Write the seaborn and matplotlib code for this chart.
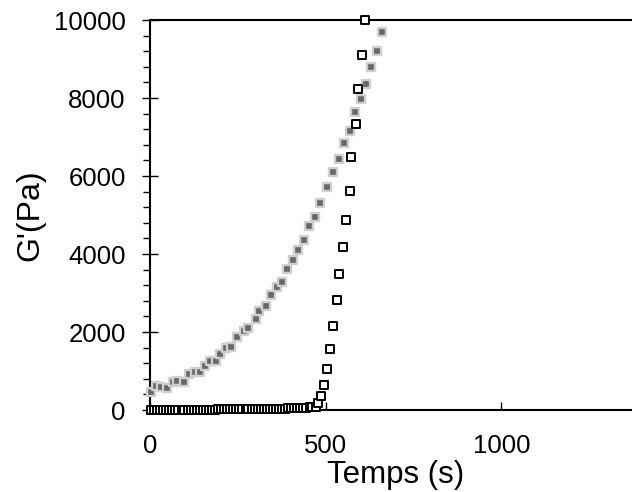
import matplotlib
matplotlib.use("Agg")
import matplotlib.pyplot as plt
from matplotlib.ticker import MultipleLocator
import pandas as pd
import seaborn as sns

# G' of the gray (filled) series
gray_time = [3, 16, 32, 49, 65, 78, 97, 111, 127, 142, 157, 172, 188, 200, 215,
             230, 247, 267, 280, 301, 311, 330, 344, 361, 375, 389, 407, 420, 438,
             453, 470, 484, 503, 520, 539, 552, 569, 584, 601, 615, 628, 647, 660]
gray_g = [470, 620, 600, 570, 725, 745, 725, 930, 965, 965, 1135, 1265, 1255, 1430,
          1580, 1615, 1865, 2025, 2110, 2335, 2530, 2665, 2940, 3160, 3290, 3610,
          3845, 4095, 4360, 4720, 4955, 5315, 5710, 6095, 6435, 6840, 7160, 7635,
          7975, 8360, 8805, 9205, 9685]

# G' of the open-square series
open_time = [3, 12, 20, 29, 38, 46, 55, 64, 72, 81, 90, 98, 107, 116, 124, 133, 142,
             150, 159, 168, 176, 185, 194, 202, 211, 220, 228, 237, 246, 254, 263,
             272, 280, 289, 298, 306, 315, 324, 332, 341, 350, 358, 367, 376, 384,
             393, 402, 410, 419, 428, 436, 445, 454, 462, 471, 478, 487, 494, 505,
             513, 520, 531, 539, 549, 557, 568, 573, 586, 593, 603, 611]
open_g = [5, 5, 5, 5, 6, 6, 6, 7, 7, 7, 8, 8, 8, 9, 9, 10, 10, 10, 11, 11, 12, 12,
          13, 13, 14, 14, 15, 15, 16, 17, 17, 18, 19, 20, 21, 22, 23, 24, 25, 27,
          28, 30, 32, 34, 36, 39, 42, 45, 49, 53, 58, 63, 69, 76, 85, 170, 360, 640,
          1040, 1560, 2150, 2820, 3490, 4170, 4870, 5615, 6480, 7340, 8230, 9100,
          10000]

y_ticks = [0, 2000, 4000, 6000, 8000, 10000]
x_ticks = [0, 500, 1000]

sns.set_theme(style="white")
plt.rcParams["font.family"] = ["Liberation Sans", "DejaVu Sans"]

fig = plt.figure(figsize=(6.32, 4.92), dpi=100)
ax = fig.add_axes([150 / 632, 82 / 492, 492 / 632, 390 / 492])

gray_df = pd.DataFrame({"t": gray_time, "g": gray_g})
open_df = pd.DataFrame({"t": open_time, "g": open_g})

sns.scatterplot(data=gray_df, x="t", y="g", ax=ax, marker="s", s=32,
                color="#676767", edgecolor="#cfcfcf", linewidth=1.7, zorder=3)
sns.scatterplot(data=open_df, x="t", y="g", ax=ax, marker="s", s=32,
                color="white", edgecolor="black", linewidth=1.4, zorder=4)
for coll in ax.collections:
    coll.set_clip_on(False)

ax.set_xlim(0, 1400)
ax.set_ylim(0, 10000)
ax.set_xticks(x_ticks)
ax.set_yticks(y_ticks)
ax.yaxis.set_minor_locator(MultipleLocator(400))

for side in ("left", "top", "bottom"):
    ax.spines[side].set_color("black")
    ax.spines[side].set_linewidth(1.5)
ax.spines["right"].set_visible(False)

ax.tick_params(axis="y", which="major", direction="inout", length=11, width=1,
               labelsize=18.5, pad=12, left=True, colors="black")
ax.tick_params(axis="y", which="minor", direction="out", length=5, width=1,
               left=True, color="black")
ax.tick_params(axis="x", which="major", direction="in", length=6, width=1,
               labelsize=18.5, pad=17, bottom=True, colors="black")
for lbl in ax.get_xticklabels() + ax.get_yticklabels():
    lbl.set_color("black")

ax.set_xlabel("Temps (s)", fontsize=22.5, labelpad=2, color="black")
ax.set_ylabel("G'(Pa)", fontsize=23, labelpad=6, color="black")

fig.savefig("out.png", dpi=100)
